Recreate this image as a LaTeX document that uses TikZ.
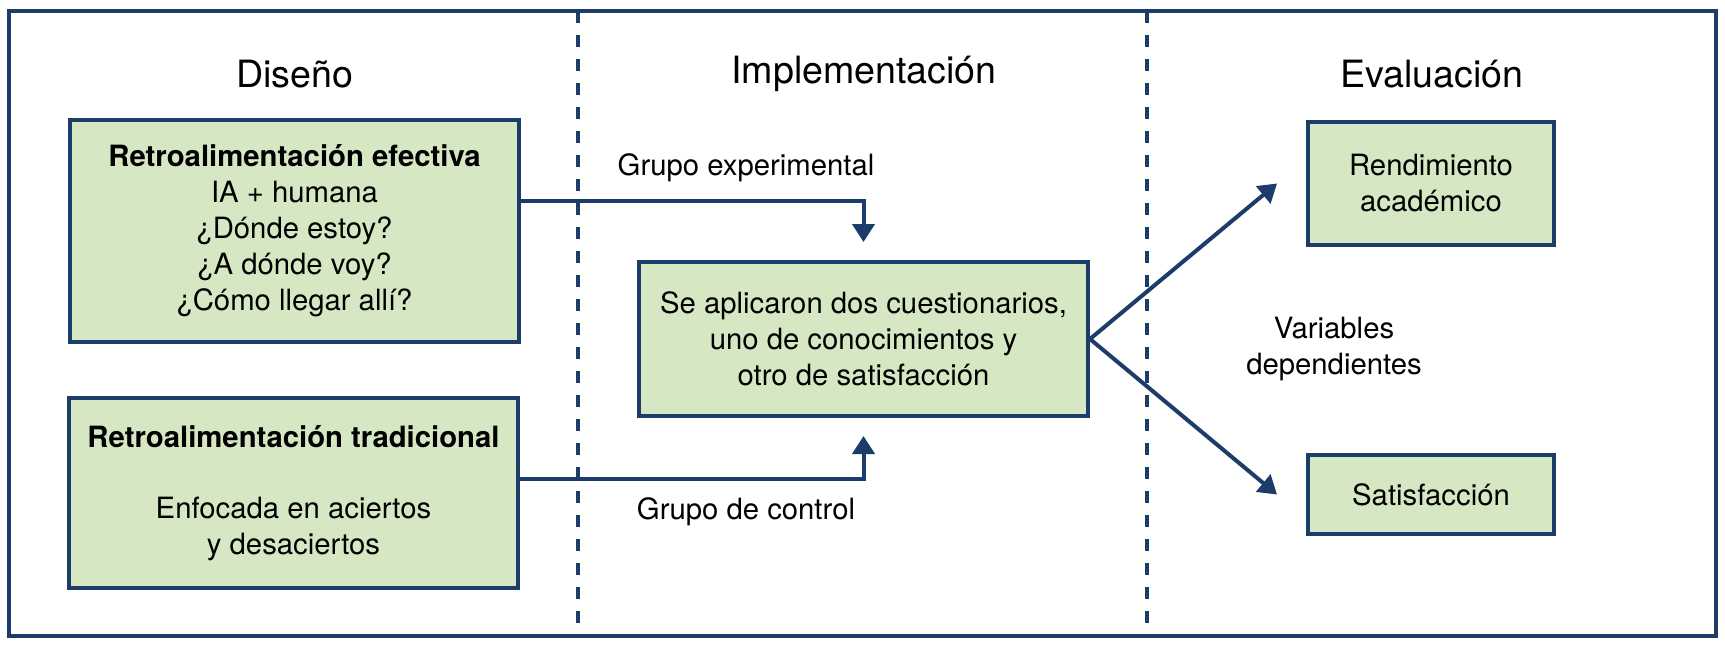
\documentclass[tikz,border=0pt]{standalone}
\usepackage{fontspec}
\setmainfont{TeX Gyre Heros}
\usetikzlibrary{arrows.meta}
\definecolor{navy}{RGB}{28,60,105}
\definecolor{boxgreen}{RGB}{213,232,195}
\begin{document}
\begin{tikzpicture}[x=1pt,y=-1pt,
  every node/.style={font=\fontsize{29.3}{36}\selectfont, inner sep=0pt},
  gbox/.style={draw=navy, line width=4pt, fill=boxgreen, align=center},
  title/.style={font=\fontsize{37.6}{44}\selectfont},
  arr/.style={draw=navy, line width=4pt, -{Triangle[length=18pt,width=22pt]}},
  sep/.style={draw=navy, line width=4pt, dash pattern=on 12pt off 12pt}
]
\useasboundingbox (0,0) rectangle (1725,648);
\fill[white] (0,0) rectangle (1725,648);
% frame
\coordinate (ftl) at (8.5,11);
\coordinate (fbr) at (1716,636);
\draw[navy, line width=4pt] (ftl) rectangle (fbr);
\coordinate (d1t) at (577.5,11);
\coordinate (d1b) at (577.5,636);
\coordinate (d2t) at (1147,11);
\coordinate (d2b) at (1147,636);
\draw[sep] (d1t) -- (d1b);
\draw[sep] (d2t) -- (d2b);
% titles
\node[title] (t1) at (295,74) {Diseño};
\node[title] (t2) at (864,74) {Implementación};
\node[title] (t3) at (1432,74) {Evaluación};
% boxes
\node[gbox, minimum width=449pt, minimum height=222pt] (b1) at (294.5,231)
  {\textbf{Retroalimentación efectiva}\\IA + humana\\¿Dónde estoy?\\¿A dónde voy?\\¿Cómo llegar allí?};
\node[gbox, minimum width=449pt, minimum height=190pt] (b2) at (293.5,493)
  {\textbf{Retroalimentación tradicional}\\[35pt]Enfocada en aciertos\\y desaciertos};
\node[gbox, minimum width=449pt, minimum height=154pt] (mid) at (863.5,339)
  {Se aplicaron dos cuestionarios,\\uno de conocimientos y\\otro de satisfacción};
\node[gbox, minimum width=246pt, minimum height=123pt] (rend) at (1431,183.5)
  {Rendimiento\\académico};
\node[gbox, minimum width=246pt, minimum height=79pt] (sat) at (1431,494.5)
  {Satisfacción};
% labels
\node (lexp) at (746,168) {Grupo experimental};
\node (lctl) at (746,512) {Grupo de control};
\node[align=center] (lvar) at (1334,349) {Variables\\dependientes};
% connectors
\draw[arr] ([yshift=30pt]b1.east) -| ([yshift=18pt]mid.north);
\draw[arr] ([yshift=14.5pt]b2.east) -| ([yshift=-18pt]mid.south);
\draw[arr] (mid.east) -- ([xshift=-29pt]rend.west);
\draw[arr] (mid.east) -- ([xshift=-29pt]sat.west);
\end{tikzpicture}
\end{document}
